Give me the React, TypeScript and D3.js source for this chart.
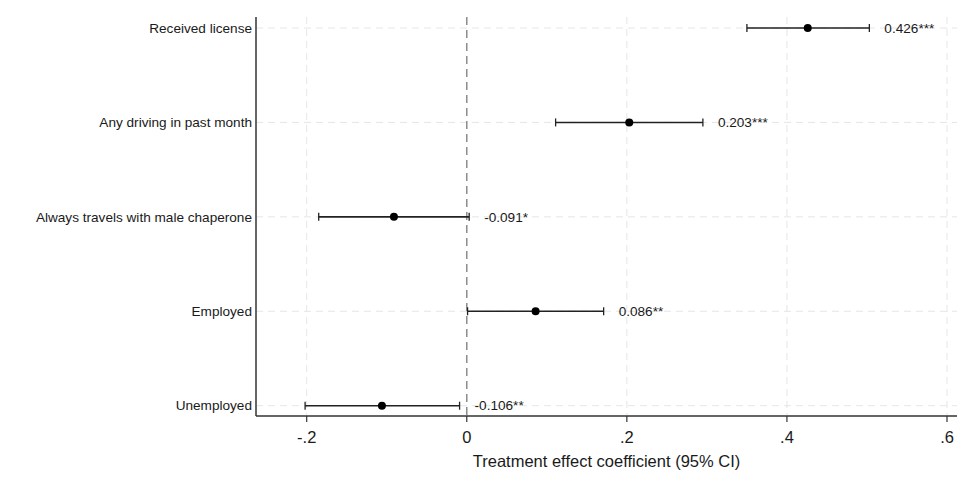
import React from 'react';
import * as d3 from 'd3';

const width = 975;
const height = 488;
const plot = {left: 256, right: 957, top: 17, bottom: 416};

const outcomes = [
  'Received license',
  'Any driving in past month',
  'Always travels with male chaperone',
  'Employed',
  'Unemployed',
];
const estimates = [0.426, 0.203, -0.091, 0.086, -0.106];
const lowerCI = [0.35, 0.111, -0.185, 0.001, -0.202];
const upperCI = [0.503, 0.295, 0.003, 0.171, -0.009];
const stars = ['***', '***', '*', '**', '**'];
const xTicks = [-0.2, 0, 0.2, 0.4, 0.6];

const font = '"Liberation Sans", Arial, sans-serif';
const ink = '#1a1a1a';

// plain hyphen instead of d3's unicode minus
const hyphen = (s: string) => s.replace('\u2212', '-');

const App: React.FC = () => {
  const xScale = d3.scaleLinear()
    .domain([-0.2, 0.6])
    .range([306.7, 947]);

  const yScale = d3.scalePoint<string>()
    .domain(outcomes)
    .range([28, 405.7]);

  const tickFmt = (v: number) => (v === 0 ? '0' : hyphen(d3.format('.1f')(v)).replace('0.', '.'));

  return (
    <svg width={width} height={height} style={{position: 'absolute', left: 0, top: 0, background: '#fff'}}>
      {/* gridlines */}
      {outcomes.map(o => (
        <line key={o} x1={plot.left} x2={plot.right} y1={yScale(o)} y2={yScale(o)}
          stroke='#e6e6e6' strokeWidth={1} strokeDasharray='7,5' />
      ))}
      {xTicks.filter(t => t !== 0).map(t => (
        <line key={t} x1={xScale(t)} x2={xScale(t)} y1={plot.top} y2={plot.bottom}
          stroke='#e6e6e6' strokeWidth={1} strokeDasharray='7,5' />
      ))}
      <line x1={xScale(0)} x2={xScale(0)} y1={plot.top} y2={plot.bottom}
        stroke='#8c8c8c' strokeWidth={1.5} strokeDasharray='8,5' />

      {/* axes */}
      <line x1={plot.left} x2={plot.left} y1={plot.top} y2={plot.bottom} stroke='#333' strokeWidth={1.5} />
      <line x1={plot.left} x2={plot.right} y1={plot.bottom} y2={plot.bottom} stroke='#333' strokeWidth={1.5} />
      {xTicks.map(t => (
        <g key={t} transform={`translate(${xScale(t)},0)`}>
          <line y1={plot.bottom} y2={plot.bottom + 6} stroke='#333' strokeWidth={1.2} />
          <text y={443} textAnchor='middle' fontFamily={font} fontSize={16.5} fill={ink}>{tickFmt(t)}</text>
        </g>
      ))}
      <text x={(plot.left + plot.right) / 2} y={467} textAnchor='middle' fontFamily={font} fontSize={16.5} fill={ink}>
        Treatment effect coefficient (95% CI)
      </text>

      {outcomes.map(o => (
        <text key={o} x={252} y={yScale(o)} dy='0.35em' textAnchor='end' fontFamily={font} fontSize={13.6} fill={ink}>{o}</text>
      ))}

      {/* estimates with confidence intervals */}
      {outcomes.map((o, i) => {
        const y = yScale(o) as number;
        return (
          <g key={o}>
            <line x1={xScale(lowerCI[i])} x2={xScale(upperCI[i])} y1={y} y2={y} stroke='#222' strokeWidth={1.6} />
            <line x1={xScale(lowerCI[i])} x2={xScale(lowerCI[i])} y1={y - 4} y2={y + 4} stroke='#222' strokeWidth={1.3} />
            <line x1={xScale(upperCI[i])} x2={xScale(upperCI[i])} y1={y - 4} y2={y + 4} stroke='#222' strokeWidth={1.3} />
            <circle cx={xScale(estimates[i])} cy={y} r={4} fill='#000' />
            <text x={xScale(upperCI[i]) + 15} y={y} dy='0.35em' fontFamily={font} fontSize={13.6} fill={ink}>
              {hyphen(d3.format('.3f')(estimates[i]))}{stars[i]}
            </text>
          </g>
        );
      })}
    </svg>
  );
};

export default App;
